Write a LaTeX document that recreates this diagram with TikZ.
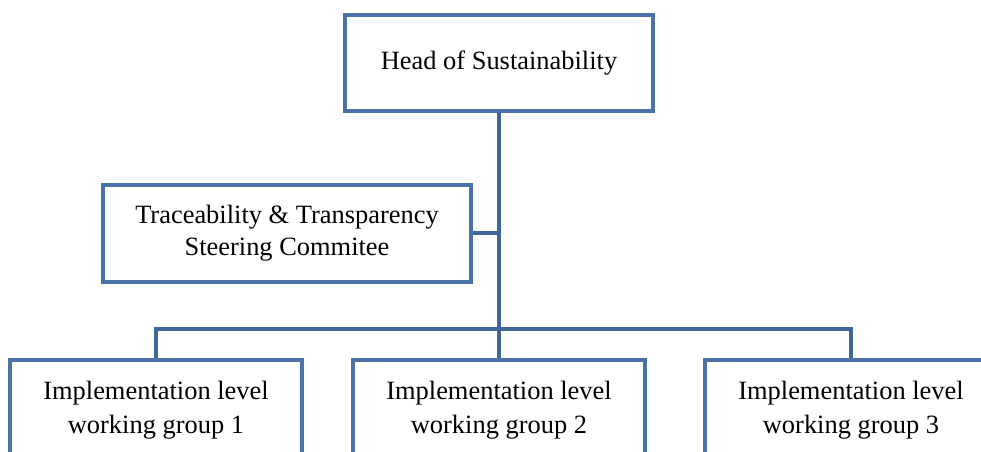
\documentclass[tikz,border=0pt]{standalone}
\usepackage{fontspec}
\setmainfont{Liberation Serif}
\usepackage{xcolor}
\usepackage{tikz}
\definecolor{boxcolor}{HTML}{4A72A8}
\definecolor{linecolor}{HTML}{3F6699}

\tikzset{
  orgbox/.style={draw=boxcolor, line width=0.1cm, rectangle, fill=white, align=center,
    font=\fontsize{18.8pt}{22.8pt}\selectfont},
  groupbox/.style={orgbox, minimum width=7.3cm, minimum height=2.5cm,
    font=\fontsize{18.8pt}{24.5pt}\selectfont},
  orgline/.style={draw=linecolor, line width=0.1cm}
}

\begin{document}
\begin{tikzpicture}[x=0.025cm, y=-0.025cm]%
\useasboundingbox (0,0) rectangle (981,452);%
\clip (0,0) rectangle (981,452);%
\node[orgbox, minimum width=7.7cm, minimum height=2.4cm] (head) at (499, 63) {Head of Sustainability};%
\node[orgbox, minimum width=9.2cm, minimum height=2.425cm] (steer) at (287, 233.5) {Traceability \& Transparency\\Steering Commitee};%
\node[groupbox] (wg1) at (156, 410) {Implementation level\\working group 1};%
\node[groupbox] (wg2) at (499, 410) {Implementation level\\working group 2};%
\node[groupbox] (wg3) at (851, 410) {Implementation level\\working group 3};%
\coordinate (bus) at (499, 329.5);%
\draw[orgline] (head.south) -- (bus);%
\draw[orgline] (steer.east) -- (steer.east -| bus);%
\draw[orgline] (wg1.north) |- (bus) -| (wg3.north);%
\draw[orgline] (bus) -- (wg2.north);%
\end{tikzpicture}
\end{document}
